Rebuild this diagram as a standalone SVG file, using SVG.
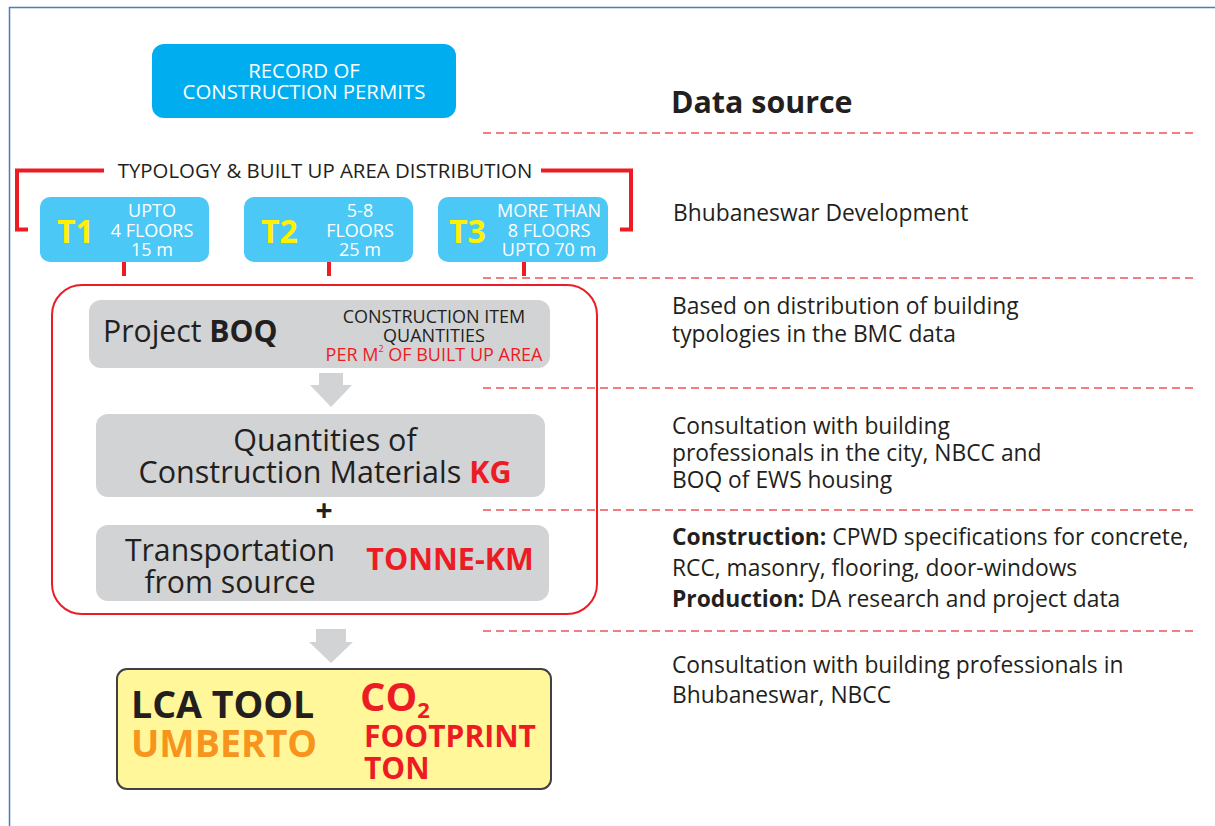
<svg xmlns="http://www.w3.org/2000/svg" width="1215" height="826" viewBox="0 0 1215 826">
<style>
.t{font-family:"Open Sans","Liberation Sans",sans-serif;fill:#231f20}
.w{font-family:"Open Sans","Liberation Sans",sans-serif;fill:#ffffff}
.b{font-weight:bold}
.red{fill:#ed1c24}
.yel{font-family:"Open Sans","Liberation Sans",sans-serif;font-weight:bold;fill:#fff200;font-size:32px}
.dash{stroke:#f0545a;stroke-width:1.3;stroke-dasharray:8,5;fill:none}
.br{stroke:#ed1c24;stroke-width:4;fill:none}
.gray{fill:#d1d3d4}
.tbox{fill:#4bc8f5}
.arrow{fill:#d1d3d4}
.ds{font-size:22.8px}
</style>
<rect x="0" y="0" width="1215" height="826" fill="#ffffff"/>
<path d="M9.5 826 V7.5 H1215" stroke="#4a7ebb" stroke-width="1.5" fill="none"/>

<g id="connectors">
  <path class="br" d="M104 170.5 H17 V229.5 H28"/>
  <path class="br" d="M541 170.5 H631 V229.5 H620"/>
  <line class="br" x1="124" y1="262" x2="124" y2="276"/>
  <line class="br" x1="329" y1="262" x2="329" y2="276"/>
  <line class="br" x1="524" y1="262" x2="524" y2="276"/>
  <polygon class="arrow" points="319,373 343,373 343,385 352,385 331,407 310,385 319,385"/>
  <polygon class="arrow" points="316,629 346,629 346,642 353,642 331,663 309,642 316,642"/>
</g>

<g id="dividers">
  <line class="dash" x1="483" y1="133" x2="1193" y2="133"/>
  <line class="dash" x1="483" y1="278" x2="1193" y2="278"/>
  <line class="dash" x1="483" y1="388" x2="1193" y2="388"/>
  <line class="dash" x1="483" y1="510" x2="1193" y2="510"/>
  <line class="dash" x1="483" y1="631" x2="1193" y2="631"/>
</g>

<g id="record">
  <rect x="152" y="44" width="304" height="74" rx="12" fill="#00aeef"/>
  <text class="w" x="304" y="78" font-size="20.4" text-anchor="middle">RECORD OF</text>
  <text class="w" x="304" y="99" font-size="20.4" text-anchor="middle">CONSTRUCTION PERMITS</text>
</g>

<g id="typology-label">
  <text class="t" x="325" y="178" font-size="20.4" text-anchor="middle">TYPOLOGY &amp; BUILT UP AREA DISTRIBUTION</text>
</g>

<g id="t1">
  <rect class="tbox" x="40" y="197" width="169" height="65" rx="10"/>
  <text class="yel" x="57" y="243">T1</text>
  <text class="w" font-size="18" text-anchor="middle"><tspan x="152" y="217">UPTO</tspan><tspan x="152" y="237">4 FLOORS</tspan><tspan x="152" y="256">15 m</tspan></text>
</g>
<g id="t2">
  <rect class="tbox" x="244" y="197" width="169" height="65" rx="10"/>
  <text class="yel" x="261" y="243">T2</text>
  <text class="w" font-size="18" text-anchor="middle"><tspan x="360" y="217">5-8</tspan><tspan x="360" y="237">FLOORS</tspan><tspan x="360" y="256">25 m</tspan></text>
</g>
<g id="t3">
  <rect class="tbox" x="438" y="197" width="170" height="65" rx="10"/>
  <text class="yel" x="449" y="243">T3</text>
  <text class="w" font-size="18" text-anchor="middle"><tspan x="549" y="217">MORE THAN</tspan><tspan x="549" y="237">8 FLOORS</tspan><tspan x="549" y="256">UPTO 70 m</tspan></text>
</g>

<g id="process-frame">
  <rect x="52" y="285" width="545" height="329" rx="30" fill="none" stroke="#ed1c24" stroke-width="2"/>
</g>

<g id="boq">
  <rect class="gray" x="89" y="300" width="461" height="68" rx="12"/>
  <text class="t" x="103" y="342" font-size="30.2">Project <tspan class="b">BOQ</tspan></text>
  <text class="t" x="434" y="323" font-size="18" text-anchor="middle">CONSTRUCTION ITEM</text>
  <text class="t" x="434" y="342" font-size="18" text-anchor="middle">QUANTITIES</text>
  <text class="t red" x="434" y="361" font-size="18" text-anchor="middle">PER M<tspan font-size="9" dy="-9">2</tspan><tspan dy="9"> OF BUILT UP AREA</tspan></text>
</g>

<g id="quantities">
  <rect class="gray" x="96" y="414" width="449" height="83" rx="12"/>
  <text class="t" x="325" y="451" font-size="30.5" text-anchor="middle">Quantities of</text>
  <text class="t" x="325" y="483" font-size="30.5" text-anchor="middle">Construction Materials <tspan class="b red">KG</tspan></text>
</g>

<g id="plus">
  <text class="t b" x="324" y="521" font-size="30" text-anchor="middle">+</text>
</g>

<g id="transport">
  <rect class="gray" x="96" y="525" width="453" height="76" rx="12"/>
  <text class="t" x="230" y="561" font-size="30.2" text-anchor="middle">Transportation</text>
  <text class="t" x="230" y="593" font-size="30.2" text-anchor="middle">from source</text>
  <text class="t b red" x="450" y="570" font-size="30.5" text-anchor="middle">TONNE-KM</text>
</g>

<g id="lca">
  <rect x="117" y="669" width="434" height="120" rx="10" fill="#fff799" stroke="#414042" stroke-width="2"/>
  <text class="t b" x="131" y="718" font-size="37.5">LCA TOOL</text>
  <text class="t b" x="131" y="757" font-size="37.5" style="fill:#f7941d">UMBERTO</text>
  <text class="t b red" x="360" y="711" font-size="40">CO<tspan font-size="22" dy="7">2</tspan></text>
  <text class="t b red" x="364" y="747" font-size="30">FOOTPRINT</text>
  <text class="t b red" x="364" y="779" font-size="30">TON</text>
</g>

<g id="data-source">
  <text class="t b" x="671" y="113" font-size="30.4">Data source</text>
  <text class="t ds" x="673" y="221">Bhubaneswar Development</text>
  <text class="t ds" x="672" y="314">Based on distribution of building</text>
  <text class="t ds" x="672" y="342">typologies in the BMC data</text>
  <text class="t ds" x="672" y="434">Consultation with building</text>
  <text class="t ds" x="672" y="461">professionals in the city, NBCC and</text>
  <text class="t ds" x="672" y="488">BOQ of EWS housing</text>
  <text class="t ds" x="672" y="545"><tspan class="b">Construction:</tspan> CPWD specifications for concrete,</text>
  <text class="t ds" x="672" y="576">RCC, masonry, flooring, door-windows</text>
  <text class="t ds" x="672" y="607"><tspan class="b">Production:</tspan> DA research and project data</text>
  <text class="t ds" x="672" y="673">Consultation with building professionals in</text>
  <text class="t ds" x="672" y="703">Bhubaneswar, NBCC</text>
</g>
</svg>
